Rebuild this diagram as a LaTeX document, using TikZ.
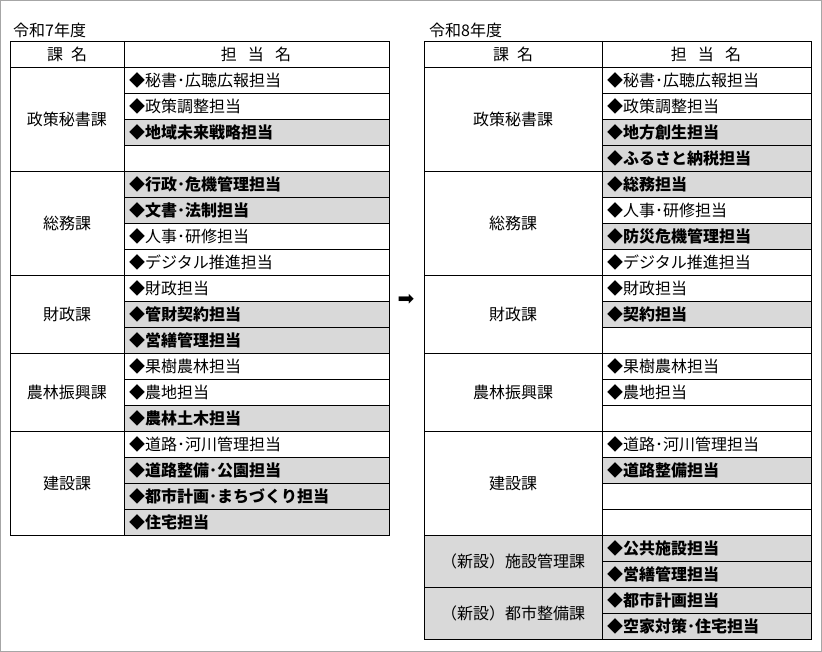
\documentclass[tikz,border=0pt]{standalone}
\usepackage{fontspec}
\newfontfamily\jp{Noto Sans CJK JP}
\newfontfamily\sym{DejaVu Sans}
\usetikzlibrary{positioning}

\begin{document}
\begin{tikzpicture}[x=1pt, y=-1pt, font=\jp\fontsize{16}{17}\selectfont,
	shade/.style={fill=black!15},
	item/.style={anchor=west, inner sep=0pt},
	grid/.style={line width=0.8pt}]
	\useasboundingbox (0,0) rectangle (822,652);
	\draw[black!35] (0.5,0.5) rectangle (821.5,651.5);

	% left table: 令和7年度
	\node[item] (titleA) at (13,30) {令和7年度};
	\foreach \t/\s [count=\i] in {秘書･広聴広報担当/0, 政策調整担当/0, 地域未来戦略担当/1, /0,
		行政･危機管理担当/1, 文書･法制担当/1, 人事･研修担当/0, デジタル推進担当/0,
		財政担当/0, 管財契約担当/1, 営繕管理担当/1,
		果樹農林担当/0, 農地担当/0, 農林土木担当/1,
		道路･河川管理担当/0, 道路整備･公園担当/1, 都市計画･まちづくり担当/1, 住宅担当/1}
	{
		\pgfmathsetmacro{\top}{67+26*(\i-1)}
		\ifnum\s=1 \fill[shade] (124,\top) rectangle (389,\top+26); \fi
		\draw[grid] (124,\top) -- (389,\top);
		\ifx\t\empty\else
		\node[item] at (129,\top+13) {\ifnum\s=1\bfseries\fi ◆\t};
		\fi
	}
	\foreach \g/\a/\b in {政策秘書課/67/171, 総務課/171/275, 財政課/275/353, 農林振興課/353/431, 建設課/431/535}
	{
		\draw[grid] (10,\a) -- (389,\a);
		\node at (67,{(\a+\b)/2}) {\g};
	}
	\node at (67,54) {課\hspace{0.5em}名};
	\node at (256,54) {担\hspace{0.7em}当\hspace{0.7em}名};
	\draw[grid] (10,41) rectangle (389,535) (124,41) -- (124,535);

	\node[font=\sym\fontsize{20}{20}\selectfont] (arrow) at (406,300) {➡};

	% right table: 令和8年度
	\node[item] (titleB) at (429,30) {令和8年度};
	\foreach \t/\s [count=\i] in {秘書･広聴広報担当/0, 政策調整担当/0, 地方創生担当/1, ふるさと納税担当/1,
		総務担当/1, 人事･研修担当/0, 防災危機管理担当/1, デジタル推進担当/0,
		財政担当/0, 契約担当/1, /0,
		果樹農林担当/0, 農地担当/0, /0,
		道路･河川管理担当/0, 道路整備担当/1, /0, /0,
		公共施設担当/1, 営繕管理担当/1, 都市計画担当/1, 空家対策･住宅担当/1}
	{
		\pgfmathsetmacro{\top}{67+26*(\i-1)}
		\ifnum\s=1 \fill[shade] (602,\top) rectangle (811,\top+26); \fi
		\draw[grid] (602,\top) -- (811,\top);
		\ifx\t\empty\else
		\node[item] at (607,\top+13) {\ifnum\s=1\bfseries\fi ◆\t};
		\fi
	}
	\fill[shade] (424,535) rectangle (602,639);
	\foreach \g/\a/\b in {政策秘書課/67/171, 総務課/171/275, 財政課/275/353, 農林振興課/353/431, 建設課/431/535,
		（新設）施設管理課/535/587, （新設）都市整備課/587/639}
	{
		\draw[grid] (424,\a) -- (811,\a);
		\node at (513,{(\a+\b)/2}) {\g};
	}
	\node at (513,54) {課\hspace{0.5em}名};
	\node at (706,54) {担\hspace{0.7em}当\hspace{0.7em}名};
	\draw[grid] (424,41) rectangle (811,639) (602,41) -- (602,639);
\end{tikzpicture}
\end{document}
